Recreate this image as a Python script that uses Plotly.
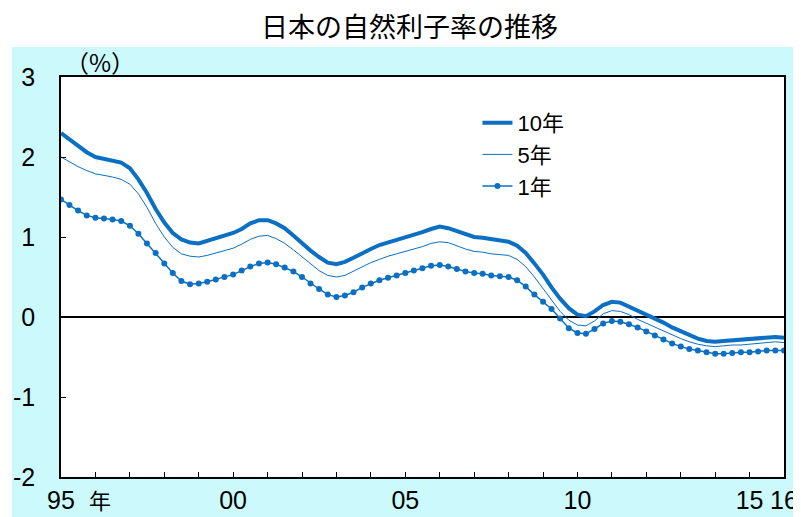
import pandas as pd
import plotly.graph_objects as go

# quarterly, 1995Q1 .. 2016Q1
quarters = pd.period_range("1995Q1", "2016Q1", freq="Q")

r10 = [2.30, 2.22, 2.14, 2.06, 2.00, 1.98, 1.96, 1.93, 1.86, 1.72, 1.55, 1.35,
       1.18, 1.05, 0.97, 0.93, 0.92, 0.95, 0.98, 1.01, 1.05, 1.10, 1.17, 1.21,
       1.21, 1.17, 1.11, 1.02, 0.92, 0.83, 0.75, 0.68, 0.66, 0.69, 0.74, 0.80,
       0.85, 0.90, 0.93, 0.96, 0.99, 1.02, 1.06, 1.10, 1.13, 1.11, 1.07, 1.03,
       1.00, 0.99, 0.97, 0.95, 0.94, 0.89, 0.80, 0.67, 0.53, 0.37, 0.23, 0.11,
       0.03, 0.01, 0.07, 0.15, 0.19, 0.18, 0.13, 0.08, 0.03, -0.01, -0.07, -0.13,
       -0.18, -0.23, -0.27, -0.30, -0.31, -0.30, -0.29, -0.29, -0.28, -0.27, -0.26, -0.25,
       -0.26]

r5 = [2.00, 1.94, 1.88, 1.83, 1.79, 1.77, 1.75, 1.72, 1.66, 1.54, 1.37, 1.17,
      1.00, 0.87, 0.79, 0.76, 0.75, 0.77, 0.80, 0.83, 0.86, 0.91, 0.97, 1.01,
      1.02, 0.98, 0.92, 0.84, 0.75, 0.66, 0.58, 0.52, 0.50, 0.52, 0.57, 0.63,
      0.68, 0.72, 0.76, 0.79, 0.82, 0.85, 0.88, 0.92, 0.94, 0.93, 0.89, 0.85,
      0.82, 0.81, 0.79, 0.78, 0.77, 0.72, 0.63, 0.50, 0.36, 0.21, 0.07, -0.04,
      -0.10, -0.11, -0.05, 0.04, 0.08, 0.07, 0.03, -0.03, -0.08, -0.12, -0.17, -0.22,
      -0.27, -0.31, -0.34, -0.36, -0.37, -0.36, -0.35, -0.35, -0.34, -0.33, -0.32, -0.31,
      -0.32]

r1 = [1.47, 1.40, 1.33, 1.27, 1.24, 1.23, 1.22, 1.20, 1.14, 1.04, 0.92, 0.80,
      0.67, 0.55, 0.45, 0.41, 0.42, 0.44, 0.47, 0.50, 0.53, 0.58, 0.63, 0.67,
      0.68, 0.66, 0.62, 0.57, 0.50, 0.42, 0.35, 0.28, 0.25, 0.27, 0.31, 0.37,
      0.42, 0.46, 0.49, 0.52, 0.55, 0.58, 0.61, 0.64, 0.65, 0.63, 0.60, 0.57,
      0.55, 0.54, 0.52, 0.51, 0.50, 0.46, 0.38, 0.28, 0.19, 0.10, -0.02, -0.14,
      -0.20, -0.21, -0.15, -0.08, -0.05, -0.06, -0.09, -0.13, -0.18, -0.23, -0.28, -0.33,
      -0.37, -0.40, -0.42, -0.44, -0.46, -0.46, -0.45, -0.44, -0.44, -0.43, -0.42, -0.42,
      -0.42]

tick_years = list(range(1995, 2017))
tick_labels = {1995: "95", 2000: "00", 2005: "05", 2010: "10", 2015: "15", 2016: "16"}
y_ticks = [3, 2, 1, 0, -1, -2]
y_labels = ["3", "2", "1", "0", "-1", "-2"]

BLUE = "#0b6fc4"
NUM_FONT = "Liberation Sans Narrow, Arial Narrow, Liberation Sans"
x = quarters.to_timestamp()

fig = go.Figure()
fig.add_trace(go.Scatter(x=x, y=r10, mode="lines", name="10年",
                         line=dict(color=BLUE, width=4)))
fig.add_trace(go.Scatter(x=x, y=r5, mode="lines", name="5年",
                         line=dict(color=BLUE, width=1)))
fig.add_trace(go.Scatter(x=x, y=r1, mode="lines+markers", name="1年",
                         line=dict(color=BLUE, width=1.5),
                         marker=dict(size=6, color=BLUE)))

# the page body adds an 8px offset, margins compensate for it
fig.update_layout(
    width=801, height=517,
    margin=dict(l=53, r=25, t=69, b=48, autoexpand=False),
    paper_bgcolor="white", plot_bgcolor="white",
    font=dict(family=NUM_FONT, color="black"),
    showlegend=True,
    legend=dict(x=0.576, y=0.9375, xanchor="left", yanchor="top",
                bgcolor="rgba(0,0,0,0)",
                font=dict(size=22, family=NUM_FONT + ", Noto Sans CJK JP"),
                tracegroupgap=0, itemwidth=30),
    xaxis=dict(
        type="date",
        range=["1995-01-01", "2016-01-01"],
        tickvals=[f"{y}-01-01" for y in tick_years],
        ticktext=[tick_labels.get(y, "") for y in tick_years],
        ticks="inside", ticklen=5, tickcolor="black", tickwidth=1,
        showline=True, linecolor="black", linewidth=1.5, mirror=True,
        showgrid=False, zeroline=False, automargin=False,
        tickfont=dict(size=25), ticklabelstandoff=0,
    ),
    yaxis=dict(
        range=[-2, 3], tickvals=y_ticks, ticktext=y_labels,
        ticks="inside", ticklen=5, tickcolor="black", tickwidth=1,
        showline=True, linecolor="black", linewidth=1.5, mirror=True,
        showgrid=False, automargin=False,
        zeroline=True, zerolinecolor="black", zerolinewidth=2,
        tickfont=dict(size=25), ticklabelstandoff=19,
    ),
    shapes=[
        dict(type="rect", xref="paper", yref="paper", x0=-0.068, x1=1.04,
             y0=-0.13, y1=1.075, fillcolor="#ccf9fc", line=dict(width=0), layer="below"),
        dict(type="rect", xref="paper", yref="paper", x0=0, x1=1,
             y0=0, y1=1, fillcolor="white", line=dict(width=0), layer="below"),
    ],
    annotations=[
        dict(text="日本の自然利子率の推移", xref="paper", yref="paper",
             x=0.4827, y=1.128, xanchor="center", yanchor="middle", showarrow=False,
             font=dict(family="Noto Sans CJK JP", size=27, color="black")),
        dict(text="（%）", xref="paper", yref="paper", x=0.054, y=1.0375,
             xanchor="center", yanchor="middle", showarrow=False,
             font=dict(size=24, family="Noto Sans CJK JP")),
        dict(text="年", xref="paper", yref="paper", x=0.054, y=-0.056,
             xanchor="center", yanchor="middle", showarrow=False,
             font=dict(size=22, family="Noto Sans CJK JP")),
    ],
)

fig.write_html("out.html")
